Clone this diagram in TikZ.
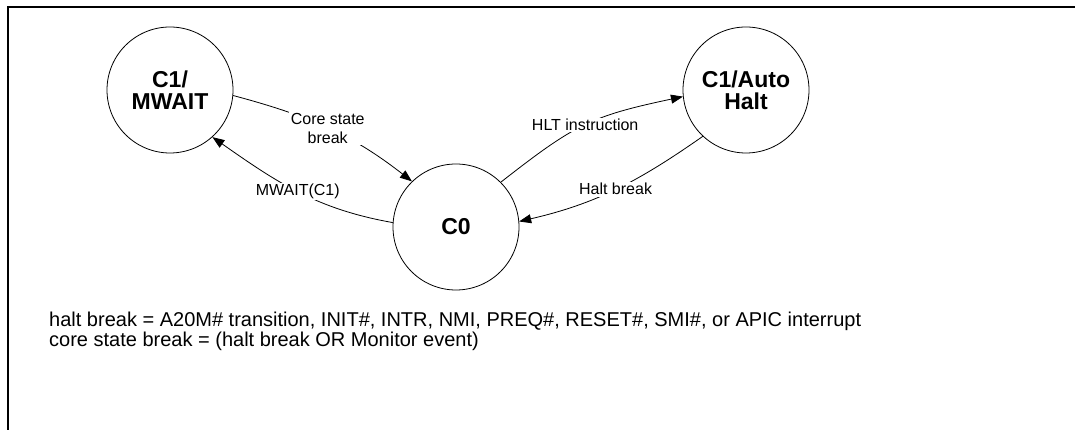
\documentclass[tikz,border=0pt]{standalone}
\usepackage{fontspec}
\setmainfont{Liberation Sans}
\usetikzlibrary{arrows.meta}
\begin{document}
\begin{tikzpicture}[x=1pt,y=1pt,
  state/.style={circle, draw, line width=0.8pt, minimum size=126pt, inner sep=0pt, align=center, font=\fontsize{23}{22}\selectfont\bfseries},
  trans/.style={line width=0.8pt, -{Triangle[length=12pt,width=9pt]}},
  lbl/.style={fill=white, inner sep=1.5pt, align=center, font=\fontsize{16}{19}\selectfont},
  frame/.style={line width=2.6pt},
]
\useasboundingbox (0,0) rectangle (1075,430);
\draw[frame] (8,0) -- (8,423) -- (1075,423);

\node[state] (mw) at (170,340) {C1/\\MWAIT};
\node[state] (c0) at (456,203) {C0};
\node[state] (ah) at (746,340) {C1/Auto\\Halt};

\draw[trans] (mw.-5) to[out=-15,in=142] node[lbl] (l1) {Core state\\break} (c0.134);
\draw[trans] (c0.176) to[out=170,in=-35] node[lbl] (l2) {MWAIT(C1)} (mw.-48);
\draw[trans] (c0.45) to[out=38,in=192,looseness=1.2] node[lbl] (l3) {HLT instruction} (ah.186);
\draw[trans] (ah.227) to[out=215,in=13] node[lbl] (l4) {Halt break} (c0.5);

\node[anchor=north west, align=left, inner sep=0pt, font=\fontsize{20}{20}\selectfont] (note) at (49,118)
  {halt break = A20M\# transition, INIT\#, INTR, NMI, PREQ\#, RESET\#, SMI\#, or APIC interrupt\\
   core state break = (halt break OR Monitor event)};
\end{tikzpicture}
\end{document}
